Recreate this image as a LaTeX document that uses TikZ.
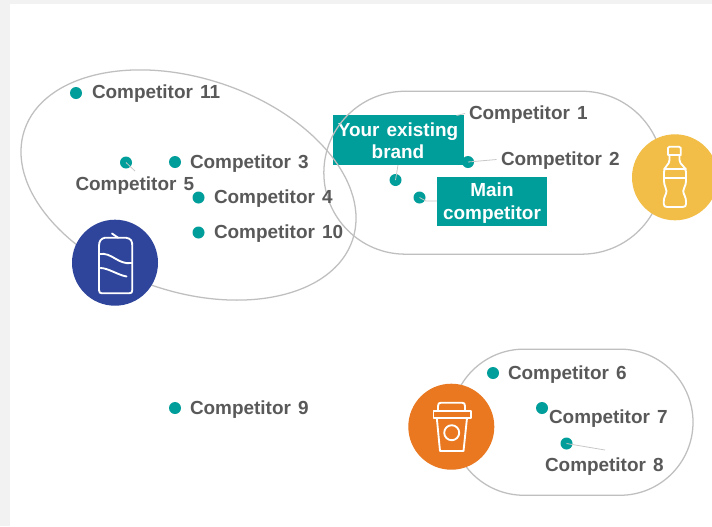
\documentclass[tikz,border=0pt]{standalone}
\usepackage{fontspec}
\setmainfont[WordSpace=1.35]{Liberation Sans}
\usetikzlibrary{shapes.geometric}
\definecolor{teal1}{HTML}{009E9A}
\definecolor{txt}{HTML}{595959}
\definecolor{ringc}{HTML}{BFBFBF}
\definecolor{leadc}{HTML}{C8C8C8}
\definecolor{blue1}{HTML}{2F459C}
\definecolor{yellow1}{HTML}{F2BE47}
\definecolor{orange1}{HTML}{E97821}
\tikzset{
  x=0.75pt,y=-0.75pt,
  ring/.style={draw=ringc,line width=0.95pt,inner sep=0,outer sep=0},
  dot/.style={circle,fill=teal1,inner sep=0,outer sep=0,minimum size=9pt},
  lab/.style={anchor=west,inner sep=0,outer sep=0,text=txt,font=\bfseries\fontsize{14.2}{17}\selectfont},
  tbox/.style={fill=teal1,text=white,align=center,inner sep=0,outer sep=0,font=\bfseries\fontsize{14.2}{17}\selectfont},
  badge/.style={circle,inner sep=0,outer sep=0,minimum size=64.5pt},
  icon/.style={draw=white,line width=1.4pt,line join=round,line cap=round},
  lead/.style={draw=leadc,line width=0.6pt},
}
\begin{document}
\begin{tikzpicture}
\useasboundingbox (0,0) rectangle (712,526);
\fill[white] (0,0) rectangle (712,526);
\fill[black!5] (0,0) rectangle (712,3.5);
\fill[black!5] (0,0) rectangle (10,526);

% teal boxes
\node[tbox,minimum width=98.25pt,minimum height=37.1pt] (bExist) at (398,140.2) {\rule{0pt}{11.2pt}Your existing\\brand};
\node[tbox,minimum width=82.5pt,minimum height=36.8pt] (bMain) at (492,201.5) {\rule{0pt}{12.8pt}Main\\competitor};

% groups
\node[ring,ellipse,minimum width=259.5pt,minimum height=160pt,rotate=-18.5] (gCan) at (188.5,185) {};
\node[ring,rectangle,rounded corners=61.1pt,minimum width=254.5pt,minimum height=122.2pt] (gBottle) at (493.5,172.7) {};
\node[ring,rectangle,rounded corners=54.8pt,minimum width=181.5pt,minimum height=109.6pt] (gCup) at (572,422.2) {};

% badges
\node[badge,fill=blue1] (cCan) at (115,262.7) {};
\node[badge,fill=yellow1] (cBottle) at (675,177.3) {};
\node[badge,fill=orange1] (cCup) at (451.3,426.7) {};

% can icon
\draw[icon] (99,246) -- (99,290) .. controls (99,292.5) and (100,293.3) .. (102,293.3) -- (129,293.3) .. controls (131.5,293.3) and (132.3,292.5) .. (132.3,290) -- (132.3,246) .. controls (132.3,241) and (131,238.5) .. (126,237.7) -- (105,237.7) .. controls (101,238.5) and (99,241) .. (99,246) -- cycle;
\draw[icon] (112,233.5) -- (118,237.7);
\draw[icon] (99.5,254) .. controls (112,252) and (118,265) .. (131.5,263);
\draw[icon] (100.5,268) .. controls (108,268) and (118,275) .. (126.5,276.5);

% bottle icon
\draw[icon] (668,155) -- (668,148) .. controls (668,147) and (668.5,146.7) .. (669.5,146.7) -- (679,146.7) .. controls (680.5,146.7) and (680.8,147) .. (680.8,148) -- (680.8,155) -- cycle;
\draw[icon] (669.5,155) -- (669.5,160) .. controls (669.5,165) and (664,166) .. (664,172) -- (664,181) .. controls (664,186) and (666.5,188) .. (666.5,191) .. controls (666.5,194) and (663.8,197) .. (663.8,201) -- (663.8,204) .. controls (663.8,206) and (665,207) .. (667,207) -- (682.5,207) .. controls (685,207) and (686,206) .. (686,204) -- (686,201) .. controls (686,197) and (683.2,194) .. (683.2,191) .. controls (683.2,188) and (686,186) .. (686,181) -- (686,172) .. controls (686,166) and (679.5,165) .. (679.5,160) -- (679.5,155);
\draw[icon] (664,169) -- (686,169);
\draw[icon] (664,178) -- (686,178);

% cup icon
\draw[icon] (433.5,410.7) rectangle (470.7,418);
\draw[icon] (438,410.7) -- (438,406) .. controls (438,403.5) and (439,402.7) .. (441,402.7) -- (462,402.7) .. controls (464,402.7) and (465,403.5) .. (465,406) -- (465,410.7);
\draw[icon] (436.8,418) -- (440,451) -- (463.5,451) -- (467,418);
\draw[icon] (451.7,432.7) circle[radius=7.5];

% labels
\node[lab] (l1) at (469,114.5) {Competitor 1};
\node[lab] (l2) at (501,161) {Competitor 2};
\node[lab] (l3) at (190,163.5) {Competitor 3};
\node[lab] (l4) at (214,198.5) {Competitor 4};
\node[lab] (l5) at (75.5,186) {Competitor 5};
\node[lab] (l6) at (508,374.5) {Competitor 6};
\node[lab] (l7) at (549,419) {Competitor 7};
\node[lab] (l8) at (545,466.5) {Competitor 8};
\node[lab] (l9) at (190,409.5) {Competitor 9};
\node[lab] (l10) at (214,233.5) {Competitor 10};
\node[lab] (l11) at (92,93.5) {Competitor 11};

% dots
\node[dot] (d11) at (76,93) {};
\node[dot] (d3) at (175,162) {};
\node[dot] (d5) at (126,162.5) {};
\node[dot] (d4) at (198.5,197.5) {};
\node[dot] (d10) at (198.5,232.5) {};
\node[dot] (d9) at (175,408) {};
\node[dot] (d6) at (493,373) {};
\node[dot] (d7) at (542,408) {};
\node[dot] (d8) at (566.5,443.5) {};
\node[dot] (d2) at (468,162) {};
\node[dot] (dExist) at (395.5,180) {};
\node[dot] (dMain) at (419.5,197.5) {};

% leaders
\coordinate (e1a) at (465,113.5);
\coordinate (e1b) at (456.5,115.5);
\coordinate (e2) at (496.5,159.5);
\coordinate (e5) at (135,171);
\coordinate (e8) at (605,450);
\coordinate (eExist) at (398,165);
\coordinate (eMain) at (437,201);
\coordinate (eMain2) at (426,201);
\draw[lead] (e1a) -- (e1b);
\draw[lead] (e2) -- (d2.center);
\draw[lead] (d5.center) -- (e5);
\draw[lead] (d8.center) -- (e8);
\draw[lead] (eExist) -- (dExist.center);
\draw[lead] (eMain) -- (eMain2) -- (dMain.center);
\end{tikzpicture}
\end{document}
